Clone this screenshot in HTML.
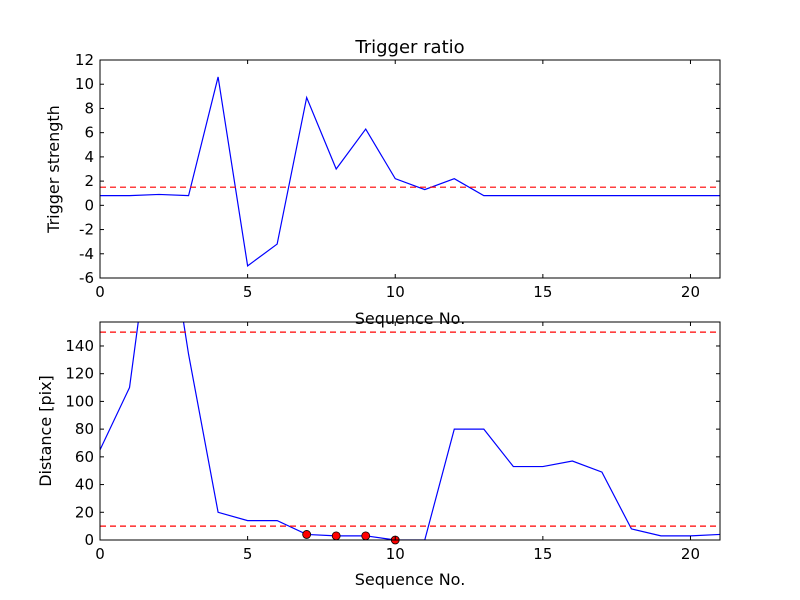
<!DOCTYPE html>
<html><head><meta charset="utf-8"><style>body{margin:0;background:#fff}svg{display:block;font-family:"DejaVu Sans","Liberation Sans",sans-serif}</style></head>
<body>
<svg id="c" width="800" height="600" viewBox="0 0 800 600" xmlns="http://www.w3.org/2000/svg">
<rect width="800" height="600" fill="#fff"/>
<defs><clipPath id="cp1"><rect x="100" y="60" width="620" height="218"/></clipPath><clipPath id="cp2"><rect x="100" y="322" width="620" height="218"/></clipPath></defs>
<g id="g"></g>
</svg>
<script>
const seqX = [0,1,2,3,4,5,6,7,8,9,10,11,12,13,14,15,16,17,18,19,20,21];
const triggerVals = [0.8,0.8,0.9,0.8,10.6,-5.0,-3.2,8.9,3.0,6.3,2.2,1.3,2.2,0.8,0.8,0.8,0.8,0.8,0.8,0.8,0.8,0.8];
const triggerThreshold = 1.5;
const distVals = [65,110,270,134,20,14,14,4,3,3,0,0,80,80,53,53,57,49,8,3,3,4];
const distThresholds = [10,150];
const markedIdx = [7,8,9,10];
const xTicks = [0,5,10,15,20];
const topYTicks = [-6,-4,-2,0,2,4,6,8,10,12];
const botYTicks = [0,20,40,60,80,100,120,140];

const NS="http://www.w3.org/2000/svg";
const g=document.getElementById('g');
function el(t,a,p){const e=document.createElementNS(NS,t);for(const k in a)e.setAttribute(k,a[k]);(p||g).appendChild(e);return e;}
function panel(top,ymin,ymax,clip){
  const L=100,R=720,T=top,B=top+218;
  const sx=v=>L+(v-0)/(21-0)*(R-L);
  const sy=v=>B-(v-ymin)/(ymax-ymin)*(B-T);
  return {L,R,T,B,sx,sy,clip};
}
function axes(p,yt,name){
  xTicks.forEach(v=>{const x=p.sx(v);
    el('line',{x1:x,x2:x,y1:p.B,y2:p.B-4,stroke:'#000'});el('line',{x1:x,x2:x,y1:p.T,y2:p.T+4,stroke:'#000'});
    const t=el('text',{x:x,y:p.B+19,'text-anchor':'middle','font-size':15});t.textContent=v;
    });
  yt.forEach(v=>{const y=p.sy(v);
    el('line',{x1:p.L,x2:p.L+4,y1:y,y2:y,stroke:'#000'});el('line',{x1:p.R,x2:p.R-4,y1:y,y2:y,stroke:'#000'});
    const t=el('text',{x:p.L-6,y:y+5,'text-anchor':'end','font-size':15});t.textContent=v;
    });
}
function line(p,vals,name){
  const d=vals.map((v,i)=>(i?'L':'M')+p.sx(seqX[i])+','+p.sy(v)).join('');
  const e=el('path',{d:d,fill:'none',stroke:'#0000ff','stroke-width':1.2,'clip-path':'url(#'+p.clip+')'});
  
}
function hline(p,v,name){
  const e=el('line',{x1:p.L,x2:p.R,y1:p.sy(v),y2:p.sy(v),stroke:'#ff0000','stroke-width':1.2,'stroke-dasharray':'6,4'});
  
}
function frame(p,name){
  const e=el('rect',{x:p.L,y:p.T,width:p.R-p.L,height:p.B-p.T,fill:'none',stroke:'#000'});
  
}
function txt(x,y,s,name,rot,fs){
  const t=el('text',{x:x,y:y,'text-anchor':'middle','font-size':fs||16});
  if(rot)t.setAttribute('transform','rotate(-90 '+x+' '+y+')');
  t.textContent=s;
}
const p1=panel(60,-6,12,'cp1');
line(p1,triggerVals,'trigger-line');
hline(p1,triggerThreshold,'trigger-threshold');
axes(p1,topYTicks,'top');frame(p1,'top-plot-area');
txt(410,53,'Trigger ratio','top-title',0,18);
txt(410,324,'Sequence No.','top-x-axis-title');
txt(59,169,'Trigger strength','top-y-axis-title',1);

const p2=panel(322,0,157.3,'cp2');
line(p2,distVals,'distance-line');
distThresholds.forEach((v,i)=>hline(p2,v,'distance-threshold-'+i));
markedIdx.forEach(i=>{const c=el('circle',{cx:p2.sx(seqX[i]),cy:p2.sy(distVals[i]),r:4,fill:'#ff0000',stroke:'#000','stroke-width':0.8});
  });
axes(p2,botYTicks,'bottom');frame(p2,'bottom-plot-area');
txt(410,585,'Sequence No.','bottom-x-axis-title');
txt(51,431,'Distance [pix]','bottom-y-axis-title',1);
</script>
</body></html>
